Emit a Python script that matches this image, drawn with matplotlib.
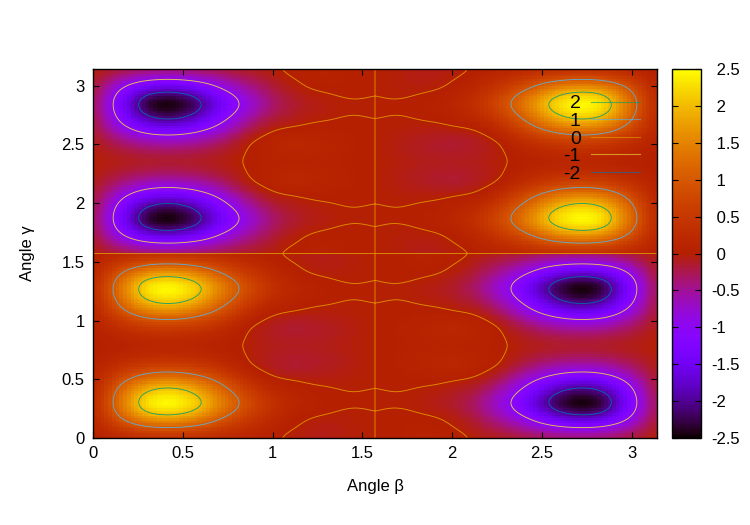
import numpy as np
import matplotlib
matplotlib.use("Agg")
import matplotlib.pyplot as plt
import matplotlib.tri as mtri
from matplotlib.colors import ListedColormap
from matplotlib.lines import Line2D

plt.rcParams['font.family'] = ['Liberation Sans', 'DejaVu Sans']

# Values: lower-left block, gamma = k*pi/32 (k=0..8),
# beta = k*pi/32 (k=0..16). The landscape repeats this block with mirrored signs.
row_g0 = [.01, .07, .13, .18, .20, .19, .16, .13, .09, .05, .02, -.03, -.06, -.07, -.05, -.025, 0]
row_g1 = [.05, .42, .75, .99, 1.09, 1.06, .92, .71, .48, .30, .15, .03, -.02, -.06, -.045, -.022, 0]
row_g2 = [.10, .76, 1.38, 1.86, 2.05, 1.98, 1.70, 1.28, .90, .57, .31, .12, .03, .001, -.02, -.01, 0]
row_g3 = [.15, .92, 1.65, 2.30, 2.52, 2.44, 2.13, 1.64, 1.15, .76, .42, .20, .10, .05, .02, .005, 0]
row_g4 = [.12, .82, 1.50, 2.02, 2.24, 2.17, 1.86, 1.39, .96, .58, .28, .13, .06, .03, .006, .001, 0]
row_g5 = [.08, .59, 1.05, 1.40, 1.55, 1.50, 1.28, .97, .62, .28, .07, .015, -.015, -.03, -.03, -.015, 0]
row_g6 = [.05, .30, .54, .72, .80, .77, .66, .48, .25, .03, -.06, -.13, -.13, -.10, -.07, -.034, 0]
row_g7 = [.02, .12, .21, .28, .32, .30, .26, .17, .07, -.03, -.09, -.13, -.13, -.115, -.08, -.037, 0]
row_g8 = [.01, .05, .08, .11, .12, .12, .10, .07, .02, -.025, -.07, -.09, -.09, -.08, -.055, -.028, 0]

contour_levels = [-2, -1, 0, 1, 2]
legend_labels = ['2', '1', '0', '-1', '-2']
level_colors = {2: '#009e73', 1: '#56b4e9', 0: '#e69f00', -1: '#f0e442', -2: '#0072b2'}
ticks_x = [0, .5, 1, 1.5, 2, 2.5, 3]
ticks_y = [0, .5, 1, 1.5, 2, 2.5, 3]
ticks_cb = [-2.5, -2, -1.5, -1, -.5, 0, .5, 1, 1.5, 2, 2.5]

half = np.array([row_g0, row_g1, row_g2, row_g3, row_g4, row_g5, row_g6, row_g7, row_g8], float)
quad = np.vstack([half, half[7::-1]])
grid = np.linspace(0, np.pi / 2, quad.shape[0])
B, G = np.meshgrid(grid, grid)
smooth = mtri.CubicTriInterpolator(mtri.Triangulation(B.ravel(), G.ravel()), quad.ravel(), kind='min_E')

def soften(a, w):
    # running mean, three passes, along both axes (rendering only)
    k = np.ones(w) / w
    for axis in (0, 1):
        for _ in range(3):
            p = np.pad(a, [(w, w) if i == axis else (0, 0) for i in range(2)], mode='edge')
            a = np.apply_along_axis(lambda v: np.convolve(v, k, mode='same'), axis, p)
            a = a[w:-w] if axis == 0 else a[:, w:-w]
    return a

def sample(count=300):
    # cells per quadrant, mirrored with sign flips into the other three
    c = (np.arange(count) + .5) * (np.pi / 2) / count
    xx, yy = np.meshgrid(c, c)
    q = soften(np.ma.filled(smooth(xx, yy), 0.0), 15)
    full_left = np.vstack([q, -q[::-1]])
    full = np.hstack([full_left, -full_left[:, ::-1]])
    centres = np.concatenate([c, np.pi - c[::-1]])
    return centres, full

x = np.linspace(0, 1, 256)
palette = ListedColormap(np.column_stack([np.sqrt(x), x**3, np.clip(np.sin(2 * np.pi * x), 0, 1)]))

W, H = 750, 525
fig = plt.figure(figsize=(W / 100, H / 100), dpi=100)
ax = fig.add_axes([93 / W, 1 - 438 / H, (657 - 93) / W, (438 - 69) / H])
cax = fig.add_axes([672 / W, 1 - 438 / H, 28.5 / W, (438 - 69) / H])

cc, fine = sample()
edges = np.linspace(0, np.pi, 151)
cells = fine[2::4, 2::4]
mesh = ax.pcolormesh(edges, edges, cells, cmap=palette, vmin=-2.5, vmax=2.5, shading='flat', rasterized=True)

ax.contour(cc, cc, fine, levels=contour_levels,
           colors=[level_colors[l] for l in contour_levels], linewidths=.65, linestyles='solid', alpha=.85)

ax.set_xlim(0, np.pi)
ax.set_ylim(0, np.pi)
ax.set_xticks(ticks_x, [f'{v:g}' for v in ticks_x])
ax.set_yticks(ticks_y, [f'{v:g}' for v in ticks_y])
ax.tick_params(direction='in', length=4.5, width=.8, top=True, right=True, labelsize=12, pad=6)
ax.set_xlabel('Angle β', fontsize=12, labelpad=13)
ax.set_ylabel('Angle γ', fontsize=12, labelpad=19)
for s in ax.spines.values():
    s.set_linewidth(1)

handles = [Line2D([], [], color=level_colors[int(l)], lw=.8, alpha=.6) for l in legend_labels]
ax.legend(handles, legend_labels, loc='upper left', bbox_to_anchor=(.834, .93), frameon=False,
          markerfirst=False, alignment='right', fontsize=14, handlelength=2.52, handletextpad=.51,
          labelspacing=0, borderpad=0, borderaxespad=0)

cb = fig.colorbar(mesh, cax=cax)
cb.set_ticks(ticks_cb)
cb.set_ticklabels([(f'{v:g}' if v < 0 else f' {v:g}') for v in ticks_cb])
cax.tick_params(direction='in', length=4.5, width=.8, left=True, right=True, labelsize=12, pad=8)
cb.outline.set_linewidth(1)

fig.savefig('out.png', dpi=100)
